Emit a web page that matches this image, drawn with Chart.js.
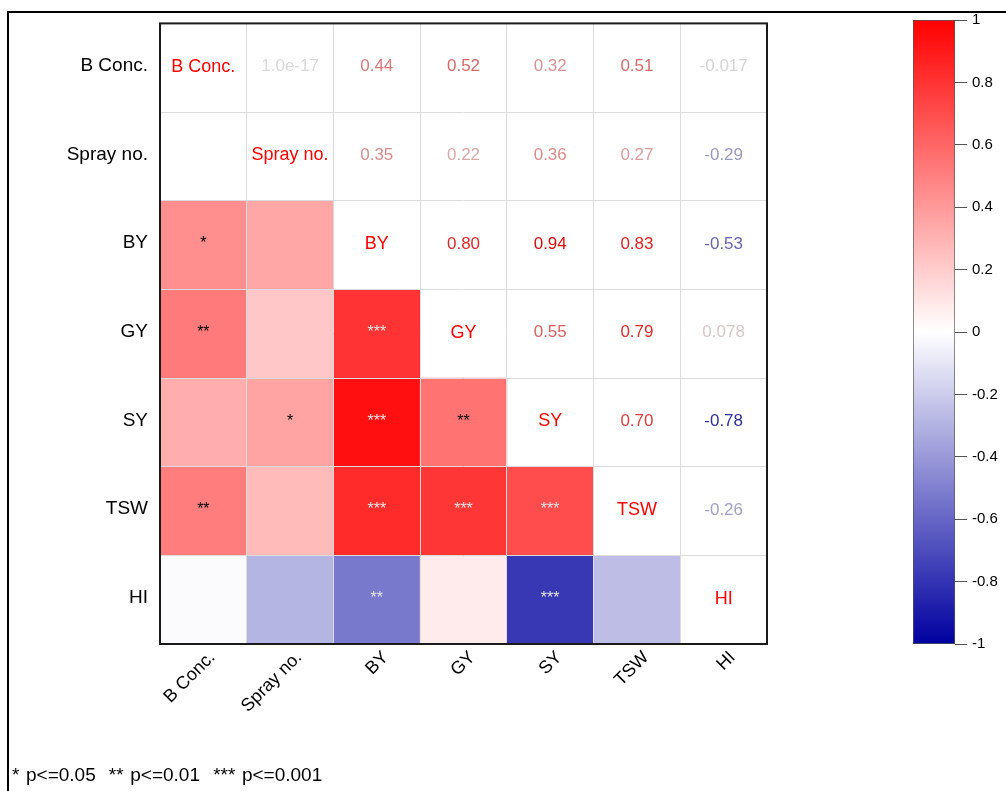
<!DOCTYPE html>
<html>
<head>
<meta charset="utf-8">
<script src="https://cdn.jsdelivr.net/npm/chart.js@4.4.1/dist/chart.umd.min.js"></script>
<style>
  html, body { margin: 0; padding: 0; background: #fff; overflow: hidden; }
  body { width: 1006px; height: 791px; position: relative; font-family: "Liberation Sans", Arial, sans-serif; }
  #frame { position: absolute; left: 7px; top: 11px; width: 1010px; height: 800px;
           border-top: 2px solid #000; border-left: 2px solid #000; }
  #main { position: absolute; left: 0; top: 0; }
  #cbar { position: absolute; left: 913px; top: 0; }
  #note { position: absolute; left: 12px; top: 764px; font-size: 19px; line-height: 22px;
          white-space: pre; word-spacing: 1.3px; color: #000; }
</style>
</head>
<body>
<div id="frame"></div>
<canvas id="main" width="1006" height="791"></canvas>
<canvas id="cbar" width="93" height="791"></canvas>
<div id="note">* p&lt;=0.05  ** p&lt;=0.01  *** p&lt;=0.001</div>

<script>
// Trait names (rows and columns of the correlation matrix)
const variables = ['B Conc.', 'Spray no.', 'BY', 'GY', 'SY', 'TSW', 'HI'];

// Pearson correlation coefficients, one row per trait
const rowBConc = [1, 1e-17, 0.44, 0.52, 0.32, 0.51, -0.017];
const rowSpray = [1e-17, 1, 0.35, 0.22, 0.36, 0.27, -0.29];
const rowBY    = [0.44, 0.35, 1, 0.80, 0.94, 0.83, -0.53];
const rowGY    = [0.52, 0.22, 0.80, 1, 0.55, 0.79, 0.078];
const rowSY    = [0.32, 0.36, 0.94, 0.55, 1, 0.70, -0.78];
const rowTSW   = [0.51, 0.27, 0.83, 0.79, 0.70, 1, -0.26];
const rowHI    = [-0.017, -0.29, -0.53, 0.078, -0.78, -0.26, 1];
const corr = [rowBConc, rowSpray, rowBY, rowGY, rowSY, rowTSW, rowHI];

// Significance marks for the lower triangle
const starsBConc = ['', '', '', '', '', '', ''];
const starsSpray = ['', '', '', '', '', '', ''];
const starsBY    = ['*', '', '', '', '', '', ''];
const starsGY    = ['**', '', '***', '', '', '', ''];
const starsSY    = ['', '*', '***', '**', '', '', ''];
const starsTSW   = ['**', '', '***', '***', '***', '', ''];
const starsHI    = ['', '', '**', '', '***', '', ''];
const stars = [starsBConc, starsSpray, starsBY, starsGY, starsSY, starsTSW, starsHI];

// Colour key ticks
const colorbarTicks = [-1, -0.8, -0.6, -0.4, -0.2, 0, 0.2, 0.4, 0.6, 0.8, 1];

const FONT = '"Liberation Sans", Arial, Helvetica, sans-serif';

// Diverging palette: dark blue (-1) -> white (0) -> red (+1)
function rgbFor(v) {
  const t = Math.min(1, Math.abs(v));
  if (v >= 0) {
    const g = Math.round(255 * (1 - t));
    return [255, g, g];
  }
  const rg = Math.round(255 * (1 - t));
  const b = Math.round(255 - t * (255 - 160));
  return [rg, rg, b];
}
function corrColor(v) {
  const [r, g, b] = rgbFor(v);
  return `rgb(${r},${g},${b})`;
}
function textColor(v) {
  const [r, g, b] = rgbFor(v).map(c => Math.round(c * 0.85));
  return `rgb(${r},${g},${b})`;
}
// Light marks on dark cells, black marks on pale ones
function starColor(v) {
  const [r, g, b] = rgbFor(v);
  return 0.299 * r + 0.587 * g + 0.114 * b < 140 ? '#e4e4e4' : '#000';
}

// One floating-bar dataset per row; lower-triangle cells only
const rowDatasets = variables.map((name, r) => ({
  label: name,
  data: variables.map((_, c) => (c < r ? [r, r + 1] : null)),
  backgroundColor: variables.map((_, c) => corrColor(corr[r][c])),
  xAxisID: 'x',
  yAxisID: 'yv',
  grouped: false,
  barPercentage: 1,
  categoryPercentage: 1,
  borderWidth: 0
}));

// Diagonal names, upper-triangle coefficients and lower-triangle stars
const cellText = {
  id: 'cellText',
  afterDraw(chart) {
    const { ctx } = chart;
    const xs = chart.scales.x, ys = chart.scales.yv;
    ctx.save();
    ctx.textAlign = 'center';
    ctx.textBaseline = 'middle';
    for (let r = 0; r < variables.length; r++) {
      const y = ys.getPixelForValue(r + 0.5);
      for (let c = 0; c < variables.length; c++) {
        const x = xs.getPixelForValue(c);
        const v = corr[r][c];
        if (r === c) {
          ctx.font = `18px ${FONT}`;
          ctx.fillStyle = '#ff0000';
          ctx.fillText(variables[r], x, y - 1);
        } else if (c > r) {
          ctx.font = `17px ${FONT}`;
          ctx.fillStyle = textColor(v);
          ctx.fillText(v.toPrecision(2), x, y - 1);
        } else if (stars[r][c]) {
          ctx.font = `16px ${FONT}`;
          ctx.fillStyle = starColor(v);
          ctx.fillText(stars[r][c], x, y - 1);
        }
      }
    }
    ctx.restore();
  }
};

// Dark frame round the plotting panel
const panelFrame = {
  id: 'panelFrame',
  afterDraw(chart) {
    const { ctx, chartArea: a } = chart;
    ctx.save();
    ctx.strokeStyle = '#1a1a1a';
    ctx.lineWidth = 2;
    ctx.strokeRect(a.left, a.top, a.right - a.left, a.bottom - a.top);
    ctx.restore();
  }
};

new Chart(document.getElementById('main'), {
  type: 'bar',
  data: { labels: variables, datasets: rowDatasets },
  options: {
    responsive: false,
    animation: false,
    layout: { padding: { left: 0, top: 20, right: 239, bottom: 0 } },
    plugins: { legend: { display: false }, tooltip: { enabled: false } },
    scales: {
      x: {
        type: 'category',
        labels: variables,
        position: 'bottom',
        offset: true,
        grid: { offset: true, color: '#dcdcdc', lineWidth: 1, drawTicks: false, z: 1 },
        border: { display: false },
        ticks: {
          autoSkip: false, minRotation: 45, maxRotation: 45,
          font: { size: 18, family: FONT }, color: '#000', padding: 3, labelOffset: 9
        },
        afterFit(s) { s.height = 147; }
      },
      yv: { type: 'linear', min: 0, max: 7, reverse: true, display: false },
      yLab: {
        type: 'category',
        labels: variables,
        position: 'left',
        offset: true,
        grid: { offset: true, color: '#dcdcdc', lineWidth: 1, drawTicks: false, z: 1 },
        border: { display: false },
        ticks: { autoSkip: false, font: { size: 19, family: FONT }, color: '#000', padding: 12, labelOffset: -2 },
        afterFit(s) { s.width = 160; }
      }
    }
  },
  plugins: [cellText, panelFrame]
});

// Colour key
new Chart(document.getElementById('cbar'), {
  type: 'bar',
  data: {
    labels: [''],
    datasets: [{
      data: [[-1, 1]],
      backgroundColor(context) {
        const chart = context.chart;
        if (!chart.chartArea) return '#fff';
        const ys = chart.scales.y;
        const g = chart.ctx.createLinearGradient(0, ys.getPixelForValue(-1), 0, ys.getPixelForValue(1));
        colorbarTicks.forEach(v => g.addColorStop((v + 1) / 2, corrColor(v)));
        return g;
      },
      borderColor: '#555',
      borderWidth: 1,
      borderSkipped: false,
      barPercentage: 1,
      categoryPercentage: 1
    }]
  },
  options: {
    responsive: false,
    animation: false,
    layout: { padding: { left: 0, top: 20, right: 0, bottom: 147 } },
    plugins: { legend: { display: false }, tooltip: { enabled: false } },
    scales: {
      x: { display: false },
      y: {
        position: 'right',
        min: -1, max: 1,
        afterBuildTicks(s) { s.ticks = colorbarTicks.map(v => ({ value: v })); },
        ticks: {
          font: { size: 15, family: FONT }, color: '#000', padding: 5,
          callback: v => String(Math.round(v * 10) / 10)
        },
        grid: { drawOnChartArea: false, drawTicks: true, tickLength: 12, color: '#555' },
        border: { display: false },
        afterFit(s) { s.width = 51; }
      }
    }
  }
});
</script>
</body>
</html>
